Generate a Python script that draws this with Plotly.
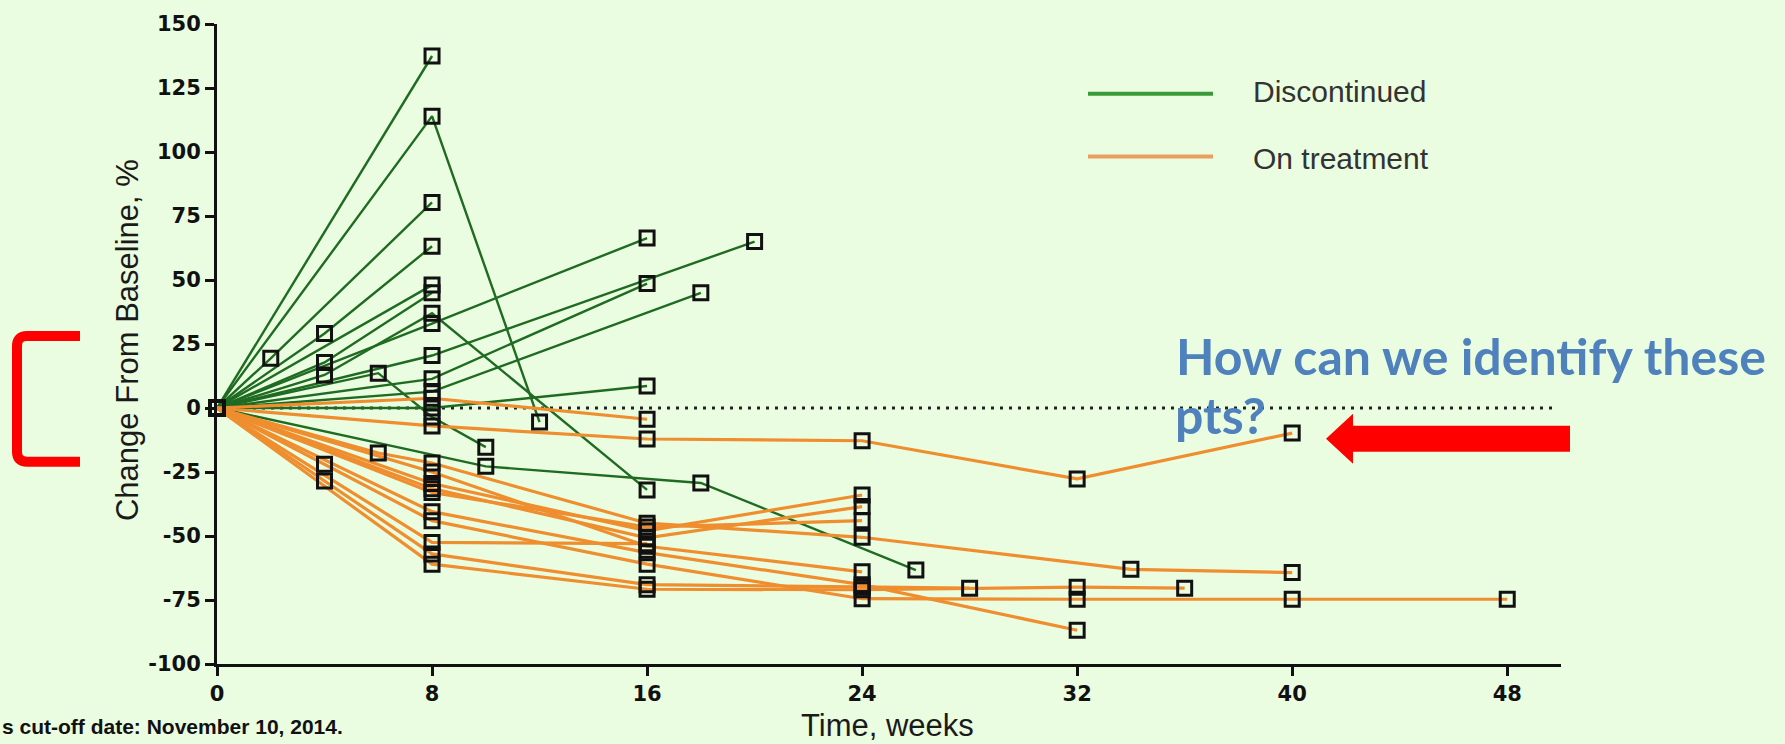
import plotly.graph_objects as go

# Percent change from baseline per patient, grouped by status
DISC_WEEKS = [
    [0, 8],
    [0, 8, 12],
    [0, 2, 8],
    [0, 4, 8],
    [0, 4, 8],
    [0, 8],
    [0, 4, 8, 16],
    [0, 8, 16],
    [0, 8, 20],
    [0, 8, 16],
    [0, 8, 18],
    [0, 8, 16],
    [0, 6, 8, 10],
    [0, 10, 18, 26],
]
DISC_CHANGE = [
    [0, 137.5],
    [0, 114, -5.5],
    [0, 19.4, 80.3],
    [0, 29.1, 63.2],
    [0, 17.8, 45],
    [0, 48],
    [0, 12.9, 37, -32],
    [0, 33, 66.4],
    [0, 20.5, 65],
    [0, 11.4, 48.6],
    [0, 6.4, 45],
    [0, 0, 8.6],
    [0, 13.6, -3.5, -15.3],
    [0, -22.8, -29.3, -63.3],
]
ONTX_WEEKS = [
    [0, 8, 16, 24, 32, 40],
    [0, 8, 16],
    [0, 4, 8, 16, 24, 28],
    [0, 8, 16, 24, 32, 36],
    [0, 4, 8, 16, 24, 32, 40, 48],
    [0, 8, 16, 24, 32],
    [0, 6, 8, 16, 24, 34, 40],
    [0, 8, 16, 24],
    [0, 8, 16, 24],
    [0, 8, 16, 24],
    [0, 8, 16, 24],
    [0, 8, 16],
]
ONTX_CHANGE = [
    [0, -7, -12.1, -12.8, -27.7, -9.8],
    [0, 3.8, -4.4],
    [0, -28.5, -57, -69, -70, -70.4],
    [0, -61, -70.8, -71, -70, -70.4],
    [0, -22, -44, -61, -74.5, -74.7, -74.7, -74.7],
    [0, -40.5, -56.5, -69, -86.8],
    [0, -17.6, -21.5, -45, -50.5, -63, -64.3],
    [0, -29.5, -48, -34],
    [0, -31.5, -50.7, -38.5],
    [0, -33, -46.5, -44],
    [0, -25, -54, -64],
    [0, -52.5, -53],
]

X_TICKS = [0, 8, 16, 24, 32, 40, 48]
Y_TICKS = [-100, -75, -50, -25, 0, 25, 50, 75, 100, 125, 150]
Y_TICK_TEXT = ["-100", "-75", "-50", "-25", "0", "25", "50", "75", "100", "125", "150"]

LEGEND_LABELS = ["Discontinued", "On treatment"]

GREEN = "#1f6b22"
ORANGE = "#ef8e2e"
BG = "#ebfde0"

W, H = 1785, 744
PL, PR, PT, PB = 217, 1561, 22, 664


def px(x):
    return (x - PL) / (PR - PL)


def py(y):
    return (PB - y) / (PB - PT)


fig = go.Figure()

# patient lines: discontinued first, on-treatment drawn over them
for weeks, vals in zip(DISC_WEEKS, DISC_CHANGE):
    fig.add_trace(go.Scatter(x=weeks, y=vals, mode="lines",
                             line=dict(color=GREEN, width=2.4),
                             cliponaxis=False, showlegend=False, hoverinfo="skip"))
for weeks, vals in zip(ONTX_WEEKS, ONTX_CHANGE):
    fig.add_trace(go.Scatter(x=weeks, y=vals, mode="lines",
                             line=dict(color=ORANGE, width=3.2),
                             cliponaxis=False, showlegend=False, hoverinfo="skip"))

# open square markers at each visit
for weeks_list, vals_list in ((DISC_WEEKS, DISC_CHANGE), (ONTX_WEEKS, ONTX_CHANGE)):
    xs = [w for ws in weeks_list for w in ws]
    ys = [v for vs in vals_list for v in vs]
    fig.add_trace(go.Scatter(x=xs, y=ys, mode="markers",
                             marker=dict(symbol="square-open", size=14, color="#111111",
                                         line=dict(width=3, color="#111111")),
                             cliponaxis=False, showlegend=False, hoverinfo="skip"))

shapes = []
# zero reference line
shapes.append(dict(type="line", xref="x", yref="y", x0=0, x1=49.8, y0=0, y1=0,
                   line=dict(color="#222222", width=3, dash="3px,6px"), layer="below"))

# legend samples
for yy, col in ((92, "#3a9a3a"), (155, "#e99f5f")):
    shapes.append(dict(type="line", xref="paper", yref="paper",
                       x0=px(1088), x1=px(1213), y0=py(yy), y1=py(yy),
                       line=dict(color=col, width=4)))

# red arrow pointing left
arrow_pts = [(1326, 438), (1353, 413), (1353, 425), (1570, 425),
             (1570, 451), (1353, 451), (1353, 463)]
path = "M " + " L ".join(f"{px(a):.5f},{py(b):.5f}" for a, b in arrow_pts) + " Z"
shapes.append(dict(type="path", xref="paper", yref="paper", path=path,
                   fillcolor="#ff0000", line=dict(width=0)))

# red bracket on the left
br = [("M", 80, 335), ("L", 27, 335), ("Q", 17, 335, 17, 345), ("L", 17, 451),
      ("Q", 17, 461, 27, 461), ("L", 80, 461)]
parts = []
for seg in br:
    if seg[0] == "Q":
        parts.append(f"Q {px(seg[1]):.5f},{py(seg[2]):.5f} {px(seg[3]):.5f},{py(seg[4]):.5f}")
    else:
        parts.append(f"{seg[0]} {px(seg[1]):.5f},{py(seg[2]):.5f}")
shapes.append(dict(type="path", xref="paper", yref="paper", path=" ".join(parts),
                   line=dict(color="#ff0000", width=10)))

annotations = [
    dict(text="Change From Baseline, %", textangle=-90, xref="paper", yref="paper",
         x=px(127), y=py(339), xanchor="center", yanchor="middle", showarrow=False,
         font=dict(family="Liberation Sans, Arial", size=31, color="#1a1a1a")),
    dict(text="Time, weeks", xref="paper", yref="paper",
         x=px(887), y=py(726), xanchor="center", yanchor="middle", showarrow=False,
         font=dict(family="Liberation Sans, Arial", size=31, color="#1a1a1a")),
    dict(text="s cut-off date: November 10, 2014.", xref="paper", yref="paper",
         x=px(0), y=py(727), xanchor="left", yanchor="middle", showarrow=False,
         font=dict(family="Liberation Sans, Arial", size=21,
                   color="#111111", weight="bold")),
    dict(text=LEGEND_LABELS[0], xref="paper", yref="paper",
         x=px(1251), y=py(90), xanchor="left", yanchor="middle", showarrow=False,
         font=dict(family="Liberation Sans, Arial", size=30, color="#333333")),
    dict(text=LEGEND_LABELS[1], xref="paper", yref="paper",
         x=px(1251), y=py(157), xanchor="left", yanchor="middle", showarrow=False,
         font=dict(family="Liberation Sans, Arial", size=30, color="#333333")),
    dict(text="How can we identify these", xref="paper", yref="paper",
         x=px(1174), y=py(355), xanchor="left", yanchor="middle", showarrow=False,
         font=dict(family="Lato", size=50, color="#4f81bd", weight="bold")),
    dict(text="pts?", xref="paper", yref="paper",
         x=px(1173), y=py(414), xanchor="left", yanchor="middle", showarrow=False,
         font=dict(family="Lato", size=50, color="#4f81bd", weight="bold")),
]

tickfont = dict(family="DejaVu Sans", size=21, color="#111111", weight="bold")
fig.update_layout(
    width=W, height=H,
    margin=dict(l=PL, r=W - PR, t=PT, b=H - PB, pad=0),
    paper_bgcolor=BG, plot_bgcolor=BG,
    showlegend=False,
    shapes=shapes, annotations=annotations,
    xaxis=dict(range=[0, 50], tickvals=X_TICKS, ticks="outside", ticklen=9, tickwidth=3,
               tickcolor="#111111", showline=True, linewidth=3, linecolor="#111111",
               showgrid=False, zeroline=False, tickfont=tickfont),
    yaxis=dict(range=[-100, 150], tickvals=Y_TICKS, ticktext=Y_TICK_TEXT, ticks="outside",
               ticklen=9, tickwidth=3, tickcolor="#111111", showline=True, linewidth=3,
               linecolor="#111111", showgrid=False, zeroline=False, tickfont=tickfont),
)

fig.write_html("out.html")
